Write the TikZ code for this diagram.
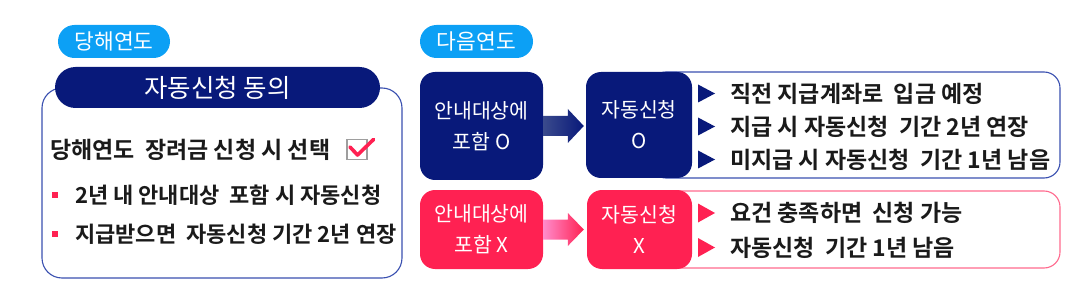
\documentclass[tikz,border=0pt]{standalone}
\usepackage{fontspec}
\setmainfont{Noto Sans CJK KR}[BoldFont={Noto Sans CJK KR Bold}]
\usetikzlibrary{calc}
\definecolor{navy}{HTML}{08197A}
\definecolor{sky}{HTML}{0CA0F5}
\definecolor{hot}{HTML}{FF2152}
\definecolor{edgeblue}{HTML}{3A50B0}
\definecolor{edgepink}{HTML}{FF6A8E}
\definecolor{ink}{HTML}{1A1A1A}
\definecolor{arrnavyL}{HTML}{3A4A8C}
\definecolor{arrpinkL}{HTML}{FF8CCB}
\tikzset{
  pill/.style={fill=sky, text=white, rounded corners=16.5pt, minimum height=33pt, inner sep=0pt, font=\fontsize{21.5}{24}\selectfont},
  header/.style={fill=navy, text=white, rounded corners=20.5pt, minimum height=41pt, minimum width=325pt, inner sep=0pt, font=\fontsize{25.5}{28}\selectfont},
  colbox/.style={rounded corners=15pt, text=white, inner sep=0pt, align=center, font=\fontsize{20.5}{31}\selectfont},
  outl/.style={draw=#1, line width=1.1pt, rounded corners=16pt, fill=white},
  bodytxt/.style={anchor=west, inner sep=0pt, text=ink, font=\bfseries\fontsize{23}{25}\selectfont},
  bullettxt/.style={bodytxt, font=\bfseries\fontsize{22}{24}\selectfont},
  redsq/.style={fill=hot, minimum size=6pt, inner sep=0pt},
}
\begin{document}
\begin{tikzpicture}[x=1pt,y=-1pt]
\useasboundingbox (0,0) rectangle (1082,286);
% ---------- left column ----------
\node[pill, minimum width=112pt] (p1) at (114,41.5) {당해연도};
\draw[outl=edgeblue, rounded corners=20pt] (42,88) rectangle (402,278);
\node[header] (hd) at (217.5,87.5) {자동신청 동의};
\node[bodytxt] (t0) at (50,150) {당해연도~ 장려금 신청 시 선택};
\node[draw=black!38, line width=1.8pt, fill=white, minimum size=20pt, inner sep=0pt] (cb) at (357,149.5) {};
\draw[hot, line width=3.6pt, line cap=round, line join=round] (350,147) -- (357.5,155) -- (373.5,139.5);
\node[redsq] (b1) at (55,195) {};
\node[bullettxt] (t1) at (75,195) {2년 내 안내대상~ 포함 시 자동신청};
\node[redsq] (b2) at (55,234) {};
\node[bullettxt] (t2) at (75,234) {지급받으면~ 자동신청 기간 2년 연장};
% ---------- right column ----------
\node[pill, minimum width=113pt] (p2) at (476.5,41.5) {다음연도};
% row O
\draw[outl=edgeblue] (650,72) rectangle (1060,178);
\node[colbox, fill=navy, minimum width=123pt, minimum height=108pt] (n1) at (481.5,126) {안내대상에\\포함 O};
\node[colbox, fill=navy, minimum width=106pt, minimum height=106pt] (n2) at (639,125) {자동신청\\O};
\coordinate (a1) at ([xshift=-2pt]n1.east -| n2.west);
\shade[left color=arrnavyL, right color=navy]
  ([yshift=10pt]n1.east) -- ([xshift=-16pt,yshift=10pt]a1) -- ([xshift=-16pt,yshift=17pt]a1) -- (a1)
  -- ([xshift=-16pt,yshift=-17pt]a1) -- ([xshift=-16pt,yshift=-10pt]a1) -- ([yshift=-10pt]n1.east) -- cycle;
\foreach \yy/\tx [count=\i] in {93.5/{직전 지급계좌로~ 입금 예정},126.5/{지급 시 자동신청~ 기간 2년 연장},159.5/{미지급 시 자동신청~ 기간 1년 남음}}{
  \fill[navy] (698,\yy-9) -- (715,\yy) -- (698,\yy+9) -- cycle;
  \node[bodytxt] (o\i) at (730,\yy) {\tx};
}
% row X
\draw[outl=edgepink] (650,191) rectangle (1060,268);
\node[colbox, fill=hot, minimum width=123pt, minimum height=79pt] (r1) at (481.5,229.5) {안내대상에\\포함 X};
\node[colbox, fill=hot, minimum width=105pt, minimum height=79pt] (r2) at (639.5,229.5) {자동신청\\X};
\coordinate (a2) at ([xshift=-3pt]r1.east -| r2.west);
\shade[left color=arrpinkL, right color=hot]
  ([yshift=10pt]r1.east) -- ([xshift=-16pt,yshift=10pt]a2) -- ([xshift=-16pt,yshift=16.5pt]a2) -- (a2)
  -- ([xshift=-16pt,yshift=-16.5pt]a2) -- ([xshift=-16pt,yshift=-10pt]a2) -- ([yshift=-10pt]r1.east) -- cycle;
\foreach \yy/\tx [count=\i] in {213/{요건 충족하면~ 신청 가능},247.5/{자동신청~ 기간 1년 남음}}{
  \fill[hot] (698,\yy-9.5) -- (715,\yy) -- (698,\yy+9.5) -- cycle;
  \node[bodytxt] (x\i) at (730,\yy) {\tx};
}
\end{tikzpicture}
\end{document}
